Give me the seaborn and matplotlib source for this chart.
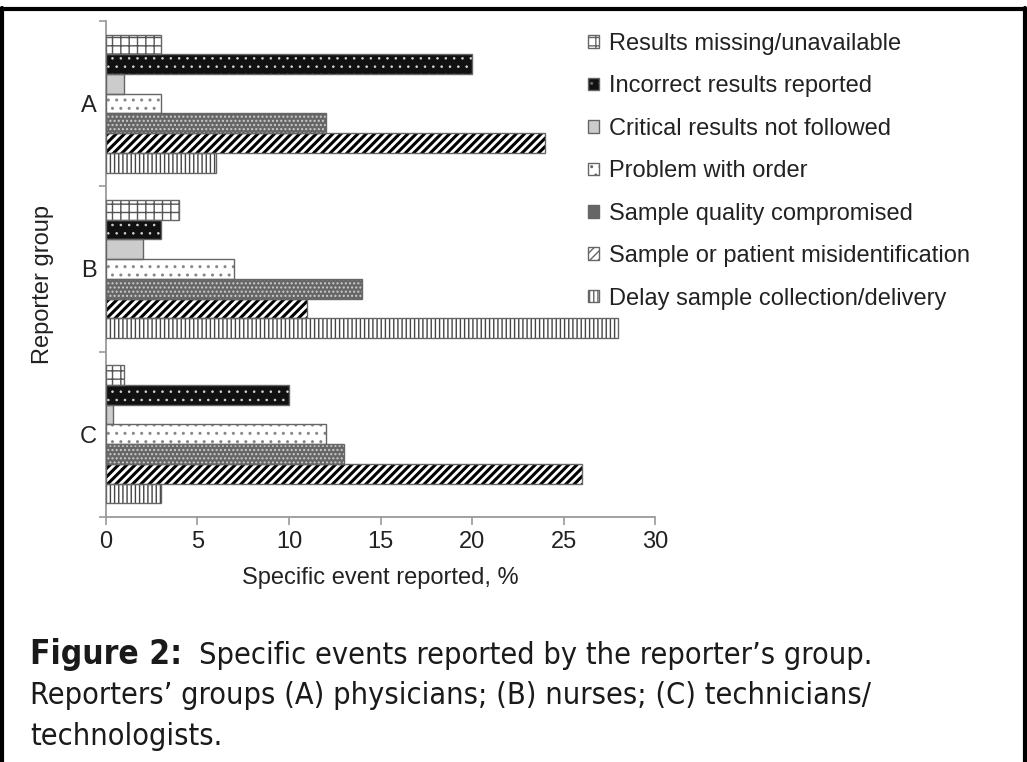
import matplotlib
matplotlib.use("Agg")
import seaborn as sns
import matplotlib.pyplot as plt
import pandas as pd
from matplotlib.patches import Patch, Rectangle
from matplotlib.lines import Line2D

####DATA####
groups = ["A", "B", "C"]
events = ["Results missing/unavailable",
          "Incorrect results reported",
          "Critical results not followed",
          "Problem with order",
          "Sample quality compromised",
          "Sample or patient misidentification",
          "Delay sample collection/delivery"]
group_a = [3, 20, 1, 3, 12, 24, 6]
group_b = [4, 3, 2, 7, 14, 11, 28]
group_c = [1, 10, 0.4, 12, 13, 26, 3]
x_ticks = [0, 5, 10, 15, 20, 25, 30]

# look of each event: fill, hatch, hatch colour, hatch width
fills = ["white", "#111111", "#cccccc", "white", "#666666", "white", "white"]
hatches = ["++", "..", "", "..", "....", "////", "||||"]
hatch_cols = ["#555555", "#d5d5d5", "#999999", "#888888", "#cccccc", "black", "#444444"]
hatch_lws = [1.0, 0.6, 1.0, 1.0, 1.0, 2.2, 1.0]

df = pd.DataFrame({
    "group": [g for g in groups for _ in events],
    "event": events * len(groups),
    "pct": group_a + group_b + group_c,
})

####PLOT####
sns.set_style("ticks")
plt.rcParams["font.family"] = ["Liberation Sans", "DejaVu Sans"]
txt = "#222222"
grey = "#9a9a9a"

fig = plt.figure(figsize=(10.27, 7.62), dpi=100)
ax = fig.add_axes([0.1032, 0.3215, 0.5346, 0.651])
sns.barplot(data=df, y="group", x="pct", hue="event", hue_order=events,
            orient="h", width=0.834, errorbar=None, saturation=1,
            legend=False, ax=ax)

for i, cont in enumerate(ax.containers):
    for p in cont:
        p.set_facecolor(fills[i])
        p.set_edgecolor(hatch_cols[i])
        p.set_hatch(hatches[i])
        p.set_linewidth(0)
        p.set_hatch_linewidth(hatch_lws[i])
        # grey outline on top of the hatch
        ax.add_patch(Rectangle(p.get_xy(), p.get_width(), p.get_height(),
                               fill=False, ec="#666666", lw=1.0, zorder=3))

ax.set_xlim(0, 30)
ax.set_ylim(2.5, -0.5)
ax.set_xticks(x_ticks)
ax.set_yticks(range(len(groups)))
ax.set_yticklabels(groups)
ax.set_yticks([-0.5, 0.5, 1.5, 2.5], minor=True)
ax.tick_params(axis="y", which="major", length=0, pad=7, labelsize=17, labelcolor=txt)
ax.tick_params(axis="y", which="minor", length=5, width=1.2, color=grey)
ax.tick_params(axis="x", length=6, width=1.2, color=grey, labelsize=17, labelcolor=txt, pad=4)
sns.despine(ax=ax)
for s in ["left", "bottom"]:
    ax.spines[s].set_color(grey)
    ax.spines[s].set_linewidth(1.3)

ax.set_xlabel("Specific event reported, %", fontsize=17, color=txt, labelpad=10)
ax.set_ylabel("Reporter group", fontsize=17, color=txt)
ax.yaxis.set_label_coords(-0.095, 0.468)

handles = [Patch(facecolor=fills[i], edgecolor=hatch_cols[i], hatch=hatches[i], lw=0)
           for i in range(len(events))]
leg = fig.legend(handles, events, loc="upper left", bbox_to_anchor=(588 / 1027, 1 - 33 / 762),
                 frameon=False, fontsize=17, handlelength=0.45, handleheight=0.45,
                 handletextpad=0.45, labelspacing=0.865, borderaxespad=0, borderpad=0)
for t in leg.get_texts():
    t.set_color(txt)
for h in leg.legend_handles:
    h.set_edgecolor("#666666")
    h.set_linewidth(1.0)

# caption, condensed face
cap = dict(family="DejaVu Sans", fontstretch="condensed", color="#1a1a1a", va="baseline")
lab = fig.text(30 / 1027, 1 - 664 / 762, "Figure 2:", fontsize=24, fontweight="bold", **cap)
r = fig.canvas.get_renderer()
x_end = lab.get_window_extent(renderer=r).x1
fig.text((x_end + 17) / 1027, 1 - 664 / 762,
         "Specific events reported by the reporter\u2019s group.", fontsize=22, **cap)
fig.text(30 / 1027, 1 - 704 / 762,
         "Reporters\u2019 groups (A) physicians; (B) nurses; (C) technicians/",
         fontsize=22, **cap)
fig.text(30 / 1027, 1 - 745 / 762, "technologists.", fontsize=22, **cap)

# black page frame
fig.add_artist(Line2D([2 / 1027, 2 / 1027], [0, 1 - 8 / 762], color="black", lw=3))
fig.add_artist(Line2D([0, 1025 / 1027], [1 - 9 / 762, 1 - 9 / 762], color="black", lw=3))
fig.add_artist(Line2D([1025 / 1027, 1025 / 1027], [0, 1 - 8 / 762], color="black", lw=3))

plt.savefig("out.png", dpi=100)
plt.close()
